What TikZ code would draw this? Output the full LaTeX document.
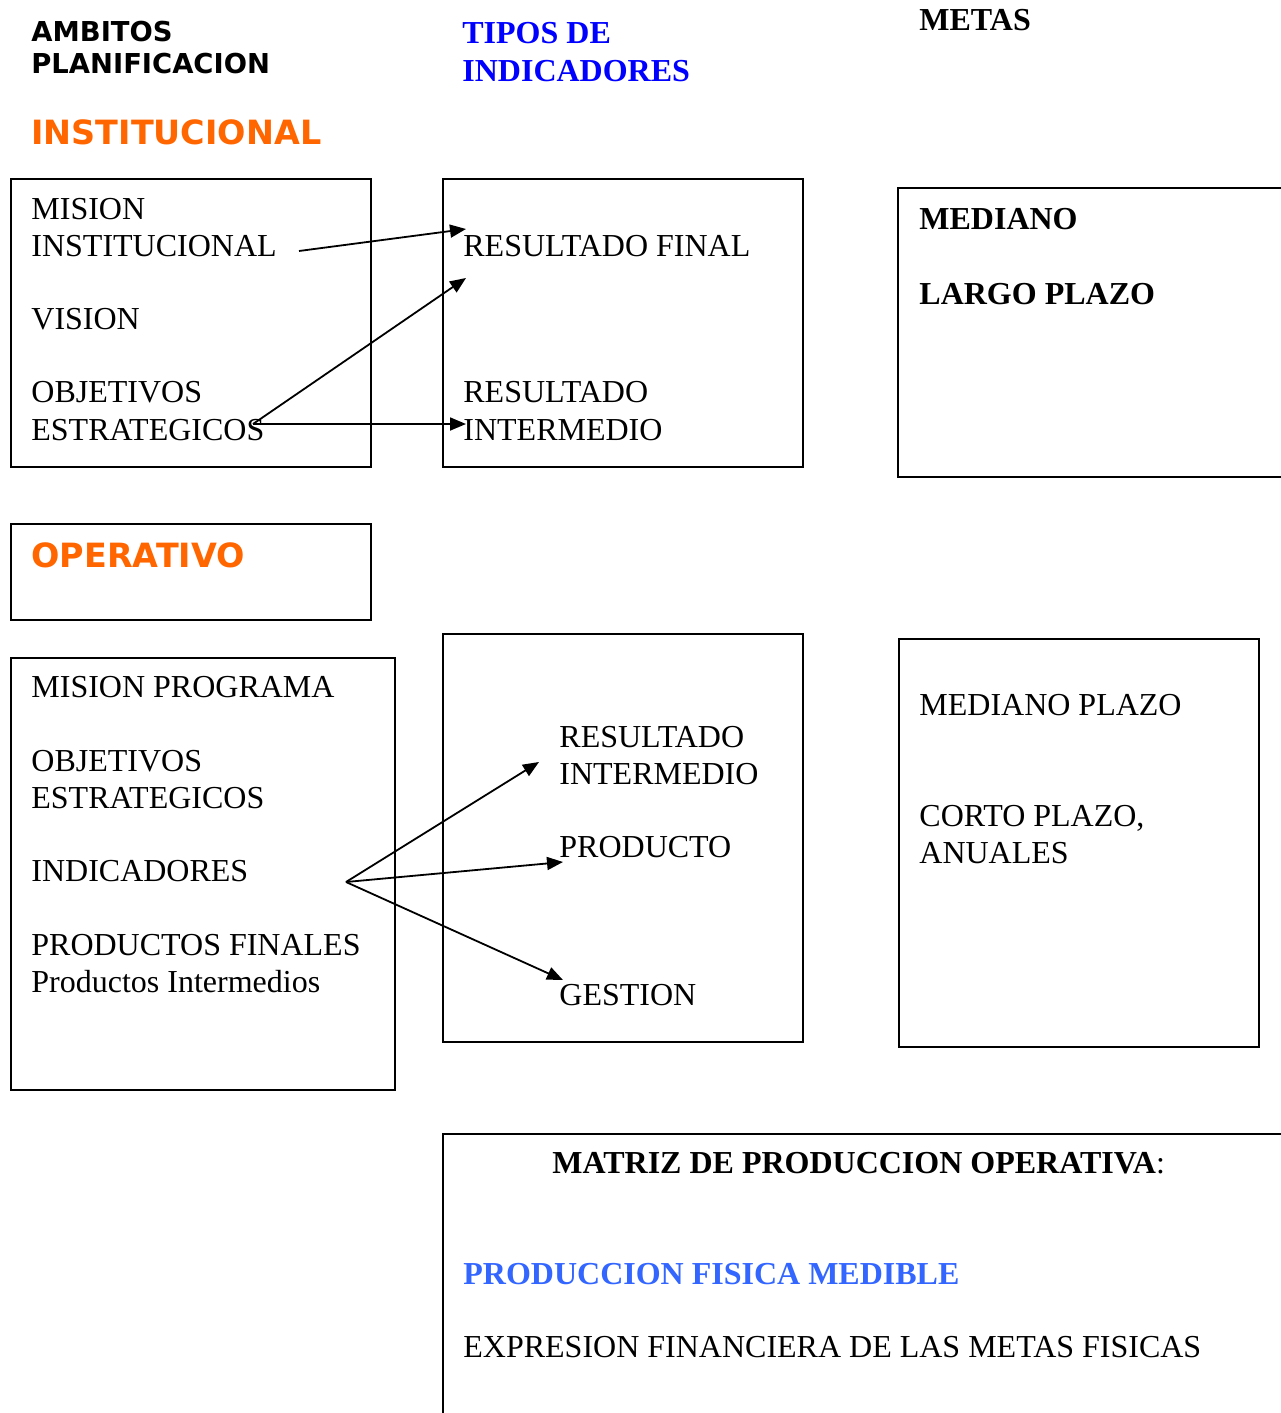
\documentclass[tikz,border=0pt]{standalone}
\usepackage{fontspec}
\setmainfont{Liberation Serif}
\newfontfamily\verdfont{DejaVu Sans}
\usetikzlibrary{arrows.meta}
\definecolor{naranja}{HTML}{FF6600}
\definecolor{azul}{HTML}{0000FF}
\definecolor{celeste}{HTML}{3366FF}

\begin{document}
\begin{tikzpicture}[x = 0.5pt, y = -0.5pt,
		txt/.style = {anchor = base west, inner sep = 0pt, font = \fontsize{16}{19}\selectfont},
		btxt/.style = {txt, font = \fontsize{16}{19}\selectfont\bfseries},
		vtxt/.style = {txt, font = \verdfont\fontsize{13.7}{16}\selectfont\bfseries},
		otxt/.style = {txt, text = naranja, font = \verdfont\fontsize{16.7}{20}\selectfont\bfseries},
		caja/.style = {draw, line width = 1pt},
		arr/.style = {-{Triangle[length = 8pt, width = 6.5pt]}, line width = 0.9pt}]
		\useasboundingbox (0, 0) rectangle (1280, 1413);
		%%%%%%%%%%%%% cabeceras
		\node[vtxt] (amb1) at (31, 42) {AMBITOS};
		\node[vtxt] (amb2) at (31, 74) {PLANIFICACION};
		\node[otxt] (inst) at (31, 145) {INSTITUCIONAL};
		\node[btxt, text = azul] (tipos1) at (462, 44) {TIPOS DE};
		\node[btxt, text = azul] (tipos2) at (462, 82) {INDICADORES};
		\node[btxt] (metas) at (919, 31) {METAS};
		%%%%%%%%%%%%% cajas
		\draw[caja] (11, 179) rectangle (371, 467);
		\draw[caja] (443, 179) rectangle (803, 467);
		\draw[caja] (898, 188) rectangle (1300, 477);
		\draw[caja] (11, 524) rectangle (371, 620);
		\draw[caja] (11, 658) rectangle (395, 1090);
		\draw[caja] (443, 634) rectangle (803, 1042);
		\draw[caja] (899, 639) rectangle (1259, 1047);
		\draw[caja] (443, 1134) rectangle (1300, 1430);
		%%%%%%%%%%%%% institucional
		\node[txt] (misInst1) at (31, 219) {MISION};
		\node[txt] (misInst2) at (31, 256) {INSTITUCIONAL};
		\node[txt] (vision) at (31, 329) {VISION};
		\node[txt] (objEst1) at (31, 402) {OBJETIVOS};
		\node[txt] (objEst2) at (31, 440) {ESTRATEGICOS};
		\node[txt] (resFin) at (463, 256) {RESULTADO FINAL};
		\node[txt] (resInt1) at (463, 402) {RESULTADO};
		\node[txt] (resInt2) at (463, 440) {INTERMEDIO};
		\node[btxt] (mediano) at (919, 229) {MEDIANO};
		\node[btxt] (largo) at (919, 304) {LARGO PLAZO};
		%%%%%%%%%%%%% operativo
		\node[otxt] (oper) at (31, 567) {OPERATIVO};
		\node[txt] (misProg) at (31, 697) {MISION PROGRAMA};
		\node[txt] (objProg1) at (31, 771) {OBJETIVOS};
		\node[txt] (objProg2) at (31, 808) {ESTRATEGICOS};
		\node[txt] (indic) at (31, 881) {INDICADORES};
		\node[txt] (prodFin) at (31, 955) {PRODUCTOS FINALES};
		\node[txt] (prodInt) at (31, 992) {Productos Intermedios};
		\node[txt] (resIntOp1) at (559, 747) {RESULTADO};
		\node[txt] (resIntOp2) at (559, 784) {INTERMEDIO};
		\node[txt] (producto) at (559, 857) {PRODUCTO};
		\node[txt] (gestion) at (559, 1005) {GESTION};
		\node[txt] (medPlazo) at (919, 715) {MEDIANO PLAZO};
		\node[txt] (corto1) at (919, 826) {CORTO PLAZO,};
		\node[txt] (corto2) at (919, 863) {ANUALES};
		%%%%%%%%%%%%% matriz
		\node[btxt] (matriz) at (552, 1173) {MATRIZ DE PRODUCCION OPERATIVA\textmd{:}};
		\node[btxt, text = celeste] (prodFis) at (463, 1284) {PRODUCCION FISICA MEDIBLE};
		\node[txt] (expFin) at (463, 1357) {EXPRESION FINANCIERA DE LAS METAS FISICAS};
		%%%%%%%%%%%%% flechas
		\coordinate (m1) at (299, 251); \coordinate (rf) at (466, 229);
		\coordinate (o1) at (253, 424); \coordinate (rf2) at (466, 278);
		\coordinate (ri) at (466, 424);
		\coordinate (in1) at (346, 882); \coordinate (rio) at (539, 762);
		\coordinate (pr) at (563, 862); \coordinate (ge) at (563, 980);
		\draw[arr] (m1) to (rf); \draw[arr] (o1) to (rf2); \draw[arr] (o1) to (ri);
		\draw[arr] (in1) to (rio); \draw[arr] (in1) to (pr); \draw[arr] (in1) to (ge);
\end{tikzpicture}
\end{document}
